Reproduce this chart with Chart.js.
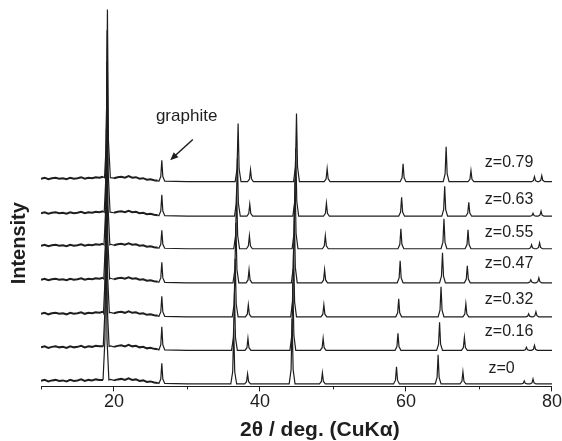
<!DOCTYPE html>
<html>
<head>
<meta charset="utf-8">
<script src="https://cdn.jsdelivr.net/npm/chart.js@4.4.0/dist/chart.umd.min.js"></script>
<style>
  html, body { margin: 0; padding: 0; background: #fff; }
  #wrap { width: 562px; height: 441px; }
</style>
</head>
<body>
<div id="wrap"><canvas id="xrdChart"></canvas></div>
<script>
// Samples, bottom to top
const labels = ['z=0', 'z=0.16', 'z=0.32', 'z=0.47', 'z=0.55', 'z=0.63', 'z=0.79'];
// vertical offset of each pattern (arb. units)
const baselines = [2.5, 36, 69.5, 103.5, 137.5, 170, 204.5];

// peak positions (2theta) and heights per sample
const pos111 = [18.9, 18.93, 18.96, 19.0, 19.03, 19.06, 19.1];
const h111   = [185, 182, 184, 186, 183, 182, 168];
const posGr  = [26.55, 26.55, 26.55, 26.55, 26.55, 26.55, 26.55];
const hGr    = [20, 23, 20, 20, 18, 21, 21];
const pos311 = [36.4, 36.5, 36.6, 36.7, 36.8, 36.9, 37.0];
const h311   = [55, 58, 58, 60, 60, 58, 58];
const pos222 = [38.3, 38.35, 38.4, 38.5, 38.55, 38.6, 38.7];
const h222   = [10, 12, 12, 13, 13, 12, 12];
const pos400 = [44.4, 44.5, 44.6, 44.7, 44.8, 44.9, 45.0];
const h400   = [65, 68, 68, 70, 70, 68, 68];
const pos331 = [48.55, 48.65, 48.75, 48.85, 48.95, 49.1, 49.2];
const h331   = [11, 12, 12, 13, 13, 13, 13];
const pos511 = [58.7, 58.9, 59.0, 59.2, 59.3, 59.4, 59.6];
const h511   = [17, 17, 18, 22, 20, 19, 18];
const pos440 = [64.4, 64.6, 64.8, 65.0, 65.2, 65.3, 65.5];
const h440   = [29, 28, 30, 30, 30, 30, 35];
const pos531 = [67.8, 68.0, 68.2, 68.4, 68.5, 68.6, 68.9];
const h531   = [12, 13, 13, 17, 19, 14, 11];
const pos533 = [76.2, 76.5, 76.8, 77.1, 77.2, 77.4, 77.6];
const h533   = [3, 3, 3, 3, 4, 3, 5];
const pos622 = [77.4, 77.6, 77.8, 78.2, 78.3, 78.5, 78.6];
const h622   = [5, 5, 5, 5, 6, 5, 6];

// noisy low-angle background (relative to baseline)
const bgX = [10, 10.5, 11, 11.5, 12, 12.5, 13, 13.5, 14, 14.5, 15, 15.5, 16, 16.5, 17, 17.5,
             18, 18.5, 19, 19.5, 20, 20.5, 21, 21.5, 22, 22.5, 23, 23.5, 24, 24.5, 25, 25.5, 26, 27, 30, 80];
const bgY = [3, 4, 2.5, 3.5, 4, 3, 3.5, 2.5, 4, 3, 3.5, 4.5, 3, 4, 3.5, 4.5,
             4, 5, 4, 4.5, 3.5, 4.5, 5, 4, 5.5, 4, 4.5, 3, 3.5, 2, 2.5, 1.5, 1, 0.5, 0, 0];

// labels / annotation anchors in data units
const labelX = [71.3, 70.8, 70.8, 70.8, 70.8, 70.8, 70.8];
const labelY = [18, 55, 87, 123, 154, 187, 224];
const xTicks = [20, 40, 60, 80];
const xMinor = [10, 30, 50, 70];

const xTitle = '2θ / deg. (CuKα)';
const yTitle = 'Intensity';
const fontFam = '"Liberation Sans", Arial, sans-serif';

const peaks = [
    [pos111, h111], [posGr, hGr], [pos311, h311], [pos222, h222], [pos400, h400],
    [pos331, h331], [pos511, h511], [pos440, h440], [pos531, h531], [pos533, h533], [pos622, h622]
];

function bgAt(x) {
    // nearest background sample
    let best = 0, d = Infinity;
    bgX.forEach((bx, i) => {
        if (Math.abs(bx - x) < d) { d = Math.abs(bx - x); best = bgY[i]; }
    });
    return best;
}

function buildPattern(i) {
    const base = baselines[i];
    const pts = [];
    const centers = peaks.map(p => p[0][i]);
    bgX.forEach((bx, k) => {
        if (centers.every(c => Math.abs(c - bx) > 0.45)) pts.push({ x: bx, y: base + bgY[k] });
    });
    peaks.forEach(([pos, h]) => {
        const c = pos[i];
        const b = base + bgAt(c);
        pts.push({ x: c - 0.4, y: b });
        pts.push({ x: c - 0.14, y: b + h[i] * 0.22 });
        pts.push({ x: c, y: b + h[i] });
        pts.push({ x: c + 0.14, y: b + h[i] * 0.22 });
        pts.push({ x: c + 0.4, y: b });
    });
    pts.sort((a, b) => a.x - b.x);
    return pts;
}

const datasets = labels.map((lab, i) => ({
    label: lab,
    data: buildPattern(i),
    borderColor: '#1e1e1e',
    borderWidth: 1.2,
    pointRadius: 0,
    tension: 0,
    segment: {
        // low-angle region is noisy -> thicker, fuzzier trace
        borderWidth: ctx => (ctx.p1.parsed.x <= 26 && ctx.p0.parsed.x < 18.4 || (ctx.p0.parsed.x > 19.6 && ctx.p1.parsed.x <= 26.1)) ? 2 : 1.2
    }
}));

const annotate = {
    id: 'annotate',
    afterDraw(chart) {
        const { ctx, scales: { x, y } } = chart;
        ctx.save();
        ctx.fillStyle = '#1e1e1e';
        ctx.strokeStyle = '#1e1e1e';
        ctx.textBaseline = 'middle';
        ctx.textAlign = 'left';
        ctx.font = '16px ' + fontFam;
        labels.forEach((t, i) => ctx.fillText(t, x.getPixelForValue(labelX[i]), y.getPixelForValue(labelY[i])));

        // graphite label + arrow
        ctx.font = '17px ' + fontFam;
        ctx.textAlign = 'center';
        ctx.fillText('graphite', x.getPixelForValue(29.95), y.getPixelForValue(269.5));
        const x0 = x.getPixelForValue(30.8), y0 = y.getPixelForValue(246.7);
        const x1 = x.getPixelForValue(27.7), y1 = y.getPixelForValue(226);
        const ang = Math.atan2(y1 - y0, x1 - x0);
        ctx.lineWidth = 1.5;
        ctx.beginPath();
        ctx.moveTo(x0, y0);
        ctx.lineTo(x1 - 5 * Math.cos(ang), y1 - 5 * Math.sin(ang));
        ctx.stroke();
        ctx.beginPath();
        ctx.moveTo(x1, y1);
        ctx.lineTo(x1 - 8 * Math.cos(ang) + 3.5 * Math.sin(ang), y1 - 8 * Math.sin(ang) - 3.5 * Math.cos(ang));
        ctx.lineTo(x1 - 8 * Math.cos(ang) - 3.5 * Math.sin(ang), y1 - 8 * Math.sin(ang) + 3.5 * Math.cos(ang));
        ctx.closePath();
        ctx.fill();

        // minor ticks
        ctx.lineWidth = 1;
        const yb = chart.chartArea.bottom;
        xMinor.forEach(v => {
            const px = Math.round(x.getPixelForValue(v)) + 0.5;
            ctx.beginPath();
            ctx.moveTo(px, yb);
            ctx.lineTo(px, yb + 3);
            ctx.stroke();
        });

        // axis titles (the original sits off-centre, so place them by hand)
        ctx.font = 'bold 21px ' + fontFam;
        ctx.textAlign = 'center';
        ctx.fillText(xTitle, x.getPixelForValue(48.2), 430);
        ctx.translate(19, y.getPixelForValue(143));
        ctx.rotate(-Math.PI / 2);
        ctx.font = 'bold 20px ' + fontFam;
        ctx.fillText(yTitle, 0, 0);
        ctx.restore();
    }
};

new Chart(document.getElementById('xrdChart').getContext('2d'), {
    type: 'line',
    data: { datasets },
    options: {
        responsive: true,
        maintainAspectRatio: false,
        animation: false,
        layout: { padding: { left: 0, right: 9, top: 0, bottom: 0 } },
        plugins: { legend: { display: false }, tooltip: { enabled: false } },
        scales: {
            x: {
                type: 'linear',
                min: 10,
                max: 80,
                afterBuildTicks: scale => { scale.ticks = xTicks.map(v => ({ value: v })); },
                grid: { drawOnChartArea: false, tickLength: 5, tickColor: '#1e1e1e' },
                border: { color: '#1e1e1e', width: 1 },
                ticks: {
                    color: '#1e1e1e',
                    padding: 0,
                    maxRotation: 0,
                    font: { family: fontFam, size: 18 }
                },
                // reserves the space; text is painted by the plugin
                title: {
                    display: true,
                    text: xTitle,
                    color: 'rgba(0,0,0,0)',
                    padding: { top: 4, bottom: 0 },
                    font: { family: fontFam, size: 20, weight: 'bold' }
                }
            },
            y: {
                min: 0,
                max: 386,
                grid: { display: false, drawTicks: false },
                border: { display: false },
                ticks: { display: false },
                title: {
                    display: true,
                    text: yTitle,
                    color: 'rgba(0,0,0,0)',
                    padding: { top: 7, bottom: 10 },
                    font: { family: fontFam, size: 20, weight: 'bold' }
                }
            }
        }
    },
    plugins: [annotate]
});
</script>
</body>
</html>
